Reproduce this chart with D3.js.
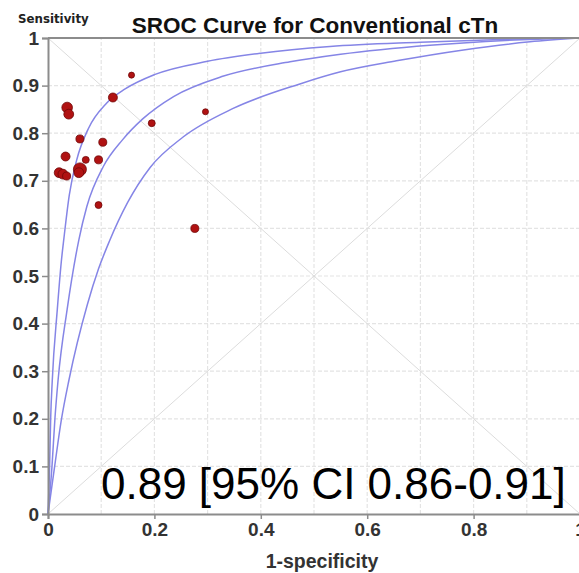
<!DOCTYPE html>
<html>
<head>
<meta charset="utf-8">
<script src="https://cdn.jsdelivr.net/npm/d3@7"></script>
<style>
  html, body { margin: 0; padding: 0; background: #fff; }
  svg { display: block; }
</style>
</head>
<body>
<svg id="chart" width="579" height="573"></svg>
<script>
// ---- data ----
const chartTitle = "SROC Curve for Conventional cTn";
const yAxisTitle = "Sensitivity";
const xAxisTitle = "1-specificity";
const aucText = "0.89 [95% CI 0.86-0.91]";

const gridValues = [0, 0.1, 0.2, 0.3, 0.4, 0.5, 0.6, 0.7, 0.8, 0.9, 1];
const yTickLabels = ["0", "0.1", "0.2", "0.3", "0.4", "0.5", "0.6", "0.7", "0.8", "0.9", "1"];
const xTickValues = [0, 0.2, 0.4, 0.6, 0.8, 1];
const xTickLabels = ["0", "0.2", "0.4", "0.6", "0.8", "1"];

// study points: 1-specificity, sensitivity, relative weight
const studyFpr  = [0.157, 0.122, 0.036, 0.039, 0.195, 0.296, 0.060, 0.103, 0.071, 0.095, 0.033, 0.060, 0.058, 0.021, 0.028, 0.035, 0.095, 0.276];
const studySens = [0.922, 0.875, 0.854, 0.840, 0.821, 0.845, 0.788, 0.781, 0.744, 0.744, 0.751, 0.724, 0.717, 0.717, 0.714, 0.710, 0.649, 0.600];
const studyWeight = [9, 20, 28, 24, 12, 9, 16, 16, 12, 16, 20, 42, 24, 24, 24, 16, 12, 16];

// SROC curve (middle) and its confidence bounds
const upperFpr  = [0, 0.003, 0.005, 0.008, 0.0175, 0.025, 0.030, 0.040, 0.054, 0.076, 0.11, 0.145, 0.2, 0.3, 0.4, 0.53, 0.7, 0.85, 1];
const upperSens = [0, 0.10, 0.20, 0.28, 0.43, 0.53, 0.58, 0.67, 0.744, 0.81, 0.863, 0.893, 0.923, 0.951, 0.968, 0.982, 0.991, 0.997, 1];

const midFpr  = [0, 0.0075, 0.013, 0.019, 0.036, 0.058, 0.073, 0.104, 0.14, 0.178, 0.236, 0.33, 0.455, 0.55, 0.718, 0.86, 1];
const midSens = [0, 0.10, 0.20, 0.282, 0.43, 0.576, 0.646, 0.73, 0.786, 0.830, 0.877, 0.920, 0.950, 0.966, 0.985, 0.995, 1];

const lowerFpr  = [0, 0.0125, 0.025, 0.0395, 0.074, 0.095, 0.115, 0.150, 0.192, 0.254, 0.348, 0.472, 0.55, 0.655, 0.781, 0.906, 1];
const lowerSens = [0, 0.10, 0.197, 0.282, 0.44, 0.515, 0.572, 0.655, 0.728, 0.792, 0.852, 0.903, 0.929, 0.952, 0.975, 0.992, 1];

const diagA = [[0, 0], [1, 1]];
const diagB = [[0, 1], [1, 0]];

// ---- drawing ----
const svg = d3.select("#chart");
const x = d3.scaleLinear().domain([0, 1]).range([48, 580]);
const y = d3.scaleLinear().domain([0, 1]).range([514, 38]);

const g = svg.append("g");

// grid
g.append("g").selectAll("line").data(gridValues.slice(1)).join("line")
  .attr("x1", d => x(d)).attr("x2", d => x(d))
  .attr("y1", y(0)).attr("y2", y(1))
  .attr("stroke", "#e4e4e4").attr("stroke-width", 1.2).attr("stroke-dasharray", "4,2");
g.append("g").selectAll("line").data(gridValues.slice(1)).join("line")
  .attr("x1", x(0)).attr("x2", x(1))
  .attr("y1", d => y(d)).attr("y2", d => y(d))
  .attr("stroke", "#e4e4e4").attr("stroke-width", 1.2).attr("stroke-dasharray", "4,2");

// diagonals
const diagLine = d3.line().x(d => x(d[0])).y(d => y(d[1]));
[diagA, diagB].forEach(dd => {
  g.append("path").attr("d", diagLine(dd))
    .attr("fill", "none").attr("stroke", "#dcdcdc").attr("stroke-width", 1);
});

// curves
const curveLine = d3.line().x(d => x(d[0])).y(d => y(d[1])).curve(d3.curveMonotoneX);
[[upperFpr, upperSens], [midFpr, midSens], [lowerFpr, lowerSens]].forEach(([fx, sy]) => {
  const pts = fx.map((v, i) => [v, sy[i]]);
  g.append("path").attr("d", curveLine(pts))
    .attr("fill", "none").attr("stroke", "#8585e6").attr("stroke-width", 1.5);
});

// study points
const r = d3.scaleSqrt().domain([0, d3.max(studyWeight)]).range([0, 6.5]);
const studies = studyFpr.map((v, i) => ({ fpr: v, sens: studySens[i], w: studyWeight[i] }));
g.append("g").selectAll("circle").data(studies).join("circle")
  .attr("cx", d => x(d.fpr)).attr("cy", d => y(d.sens)).attr("r", d => r(d.w))
  .attr("fill", "#b01212").attr("stroke", "#700808").attr("stroke-width", 0.8);

// axes
const yAxis = d3.axisLeft(y).tickValues(gridValues)
  .tickFormat((d, i) => yTickLabels[i]).tickSize(6).tickPadding(3);
const yg = svg.append("g").attr("transform", `translate(${x(0)},0)`).call(yAxis);
const xAxis = d3.axisBottom(x).tickValues(xTickValues)
  .tickFormat((d, i) => xTickLabels[i]).tickSize(5).tickPadding(4);
const xg = svg.append("g").attr("transform", `translate(0,${y(0)})`).call(xAxis);

[yg, xg].forEach(a => {
  a.select(".domain").attr("stroke", "#8c8c8c").attr("stroke-width", 2);
  a.selectAll(".tick line").attr("stroke", "#8c8c8c").attr("stroke-width", 1.5);
  a.selectAll(".tick text").attr("fill", "#333").attr("font-family", "Liberation Sans, Arial, sans-serif")
    .attr("font-size", 19).attr("font-weight", "bold");
});

// top border
svg.append("line").attr("x1", x(0)).attr("x2", x(1)).attr("y1", y(1)).attr("y2", y(1))
  .attr("stroke", "#8c8c8c").attr("stroke-width", 2);

// titles
svg.append("text").attr("x", 315).attr("y", 32.5).attr("text-anchor", "middle")
  .attr("font-family", "Liberation Sans, Arial, sans-serif").attr("font-weight", "bold")
  .attr("font-size", 22.5).attr("fill", "#111").text(chartTitle);

svg.append("text").attr("x", 18).attr("y", 23).attr("text-anchor", "start")
  .attr("font-family", "DejaVu Sans, sans-serif").attr("font-weight", "bold")
  .attr("font-size", 11.8).attr("fill", "#222").text(yAxisTitle);

svg.append("text").attr("x", 322).attr("y", 568).attr("text-anchor", "middle")
  .attr("font-family", "Liberation Sans, Arial, sans-serif").attr("font-weight", "bold")
  .attr("font-size", 19.5).attr("fill", "#333").text(xAxisTitle);

svg.append("text").attr("x", 101).attr("y", 499).attr("text-anchor", "start")
  .attr("font-family", "Liberation Sans, Arial, sans-serif")
  .attr("font-size", 44).attr("fill", "#000").text(aucText);
</script>
</body>
</html>
